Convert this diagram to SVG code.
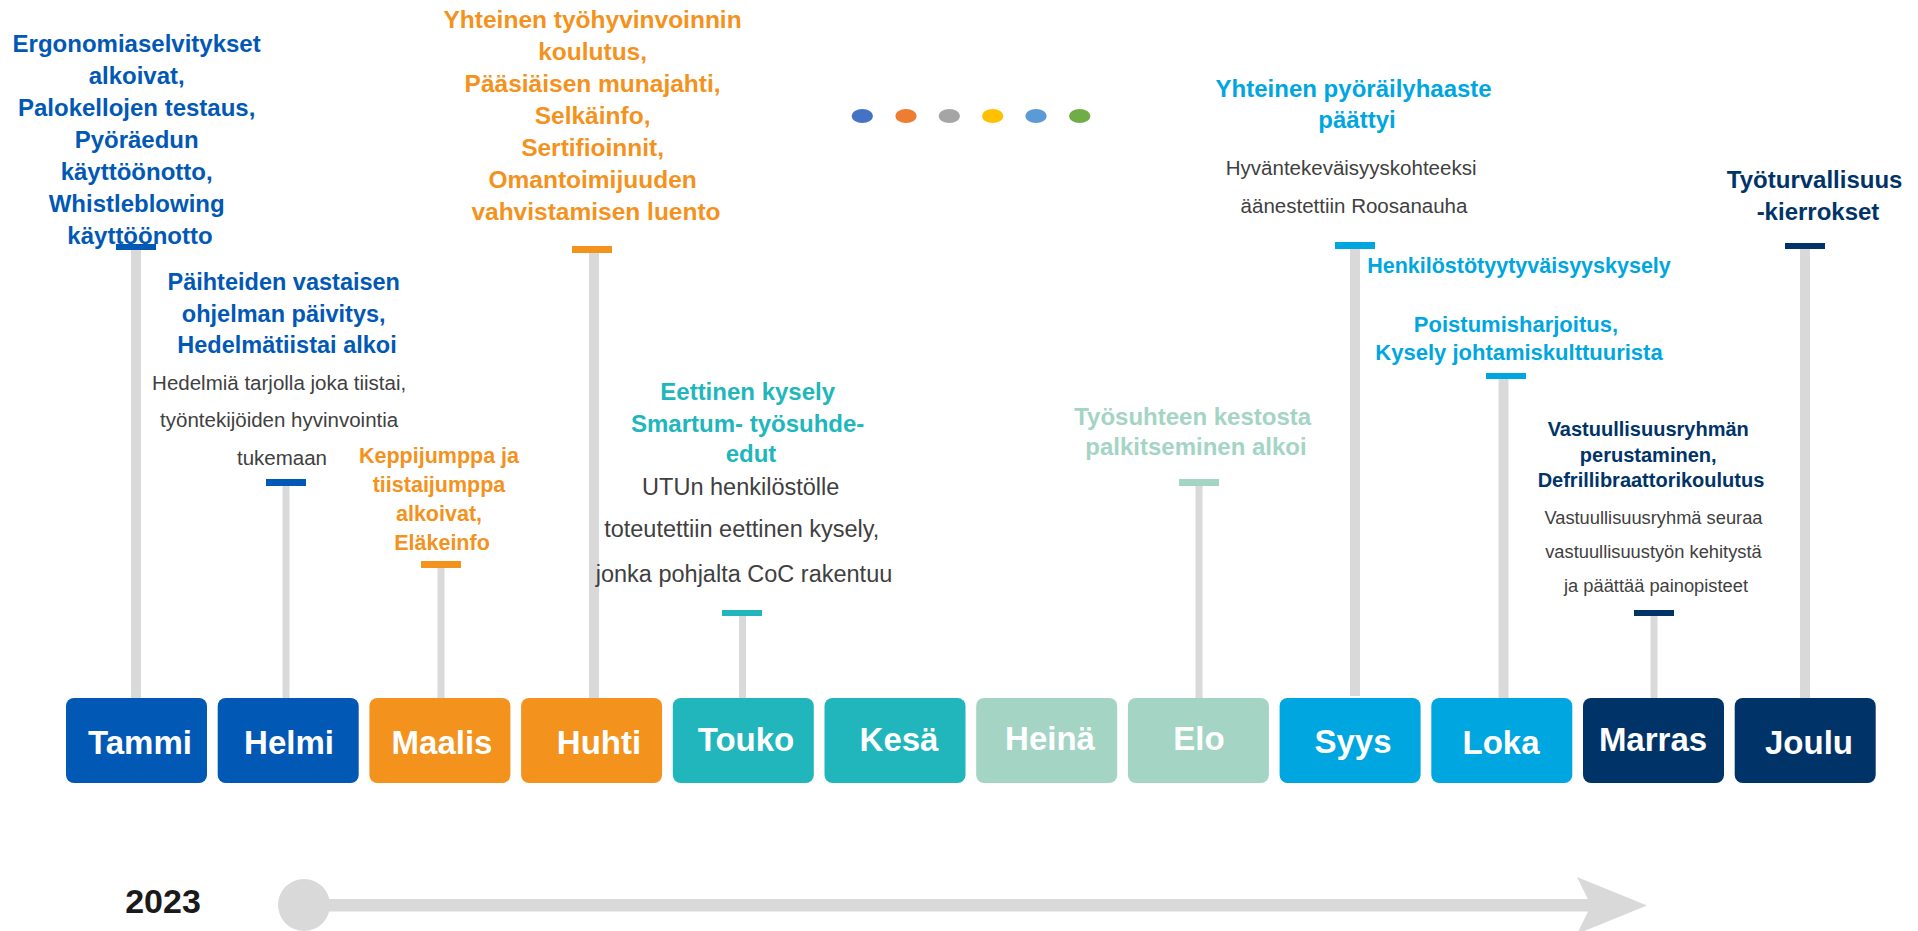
<svg xmlns="http://www.w3.org/2000/svg" width="1918" height="931" viewBox="0 0 1918 931">
<style>
.ml{font-family:"Liberation Sans",Arial,sans-serif;font-weight:bold;font-size:33px;fill:#ffffff;text-anchor:middle}
.t{font-family:"Liberation Sans",Arial,sans-serif;font-weight:bold;text-anchor:middle}
.d{font-family:"Liberation Sans",Arial,sans-serif;fill:#404040;text-anchor:middle}
.stem{fill:#d9d9d9}
.blue{fill:#0258b5}.orange{fill:#f4921e}.teal{fill:#20b6bc}.mint{fill:#a3d4c4}.cyan{fill:#00a6df}.navy{fill:#003468}
</style>
<rect width="1918" height="931" fill="#ffffff"/>

<g id="connectors">
  <rect class="stem" x="131" y="248" width="10" height="451"/>
  <rect class="stem" x="282.5" y="484" width="7" height="215"/>
  <rect class="stem" x="437.5" y="566" width="7" height="132"/>
  <rect class="stem" x="589" y="251" width="10" height="448"/>
  <rect class="stem" x="739" y="615" width="7" height="84"/>
  <rect class="stem" x="1195.5" y="484" width="7" height="215"/>
  <rect class="stem" x="1350" y="247" width="10" height="449"/>
  <rect class="stem" x="1498.5" y="378" width="10" height="321"/>
  <rect class="stem" x="1650.5" y="615" width="7" height="84"/>
  <rect class="stem" x="1800" y="248" width="10" height="451"/>
</g>

<g id="timeline">
  <circle cx="304" cy="905" r="26" fill="#d9d9d9"/>
  <rect x="304" y="899" width="1290" height="12.5" fill="#d9d9d9"/>
  <polygon points="1577,877 1647,905.5 1577,934 1591,905.5" fill="#d9d9d9"/>
  <text x="163" y="913" font-family="'Liberation Sans',Arial,sans-serif" font-weight="bold" font-size="34" fill="#1a1a1a" text-anchor="middle">2023</text>
</g>

<g id="legend-dots">
  <ellipse cx="862.3" cy="116" rx="10.7" ry="7" fill="#4472c4"/>
  <ellipse cx="906" cy="116" rx="10.7" ry="7" fill="#ed7d31"/>
  <ellipse cx="949.3" cy="116" rx="10.7" ry="7" fill="#a5a5a5"/>
  <ellipse cx="992.7" cy="116" rx="10.7" ry="7" fill="#ffc000"/>
  <ellipse cx="1036" cy="116" rx="10.7" ry="7" fill="#5b9bd5"/>
  <ellipse cx="1079.7" cy="116" rx="10.7" ry="7" fill="#70ad47"/>
</g>

<g id="month-tammi"><rect class="blue" x="66" y="698" width="141" height="85" rx="8"/><text class="ml" x="140" y="754">Tammi</text></g>
<g id="month-helmi"><rect class="blue" x="217.7" y="698" width="141" height="85" rx="8"/><text class="ml" x="289" y="754">Helmi</text></g>
<g id="month-maalis"><rect class="orange" x="369.4" y="698" width="141" height="85" rx="8"/><text class="ml" x="442" y="754">Maalis</text></g>
<g id="month-huhti"><rect class="orange" x="521.1" y="698" width="141" height="85" rx="8"/><text class="ml" x="599" y="754">Huhti</text></g>
<g id="month-touko"><rect class="teal" x="672.8" y="698" width="141" height="85" rx="8"/><text class="ml" x="746" y="751">Touko</text></g>
<g id="month-kesa"><rect class="teal" x="824.5" y="698" width="141" height="85" rx="8"/><text class="ml" x="899" y="751">Kesä</text></g>
<g id="month-heina"><rect class="mint" x="976.2" y="698" width="141" height="85" rx="8"/><text class="ml" x="1050" y="750">Heinä</text></g>
<g id="month-elo"><rect class="mint" x="1127.9" y="698" width="141" height="85" rx="8"/><text class="ml" x="1199" y="750">Elo</text></g>
<g id="month-syys"><rect class="cyan" x="1279.6" y="698" width="141" height="85" rx="8"/><text class="ml" x="1353" y="753">Syys</text></g>
<g id="month-loka"><rect class="cyan" x="1431.3" y="698" width="141" height="85" rx="8"/><text class="ml" x="1501" y="754">Loka</text></g>
<g id="month-marras"><rect class="navy" x="1583" y="698" width="141" height="85" rx="8"/><text class="ml" x="1653" y="751">Marras</text></g>
<g id="month-joulu"><rect class="navy" x="1734.7" y="698" width="141" height="85" rx="8"/><text class="ml" x="1809" y="754">Joulu</text></g>

<g id="event-tammi">
  <text class="t blue" font-size="24" x="140">
    <tspan x="140" y="51.5">Ergonomiaselvitykset</tspan>
    <tspan x="140" y="83.5">alkoivat,</tspan>
    <tspan x="140" y="115.5">Palokellojen testaus,</tspan>
    <tspan x="140" y="147.5">Pyöräedun</tspan>
    <tspan x="140" y="179.5">käyttöönotto,</tspan>
    <tspan x="140" y="211.5">Whistleblowing</tspan>
    <tspan x="140" y="243.5">käyttöönotto</tspan>
  </text>
  <rect class="blue" x="116" y="244" width="40" height="6"/>
</g>

<g id="event-helmi">
  <text class="t blue" font-size="23.5">
    <tspan x="287" y="290">Päihteiden vastaisen</tspan>
    <tspan x="287" y="321.5">ohjelman päivitys,</tspan>
    <tspan x="287" y="353">Hedelmätiistai alkoi</tspan>
  </text>
  <text class="d" font-size="20.5">
    <tspan x="282" y="390">Hedelmiä tarjolla joka tiistai,</tspan>
    <tspan x="282" y="427">työntekijöiden hyvinvointia</tspan>
    <tspan x="282" y="465">tukemaan</tspan>
  </text>
  <rect class="blue" x="266" y="479" width="40" height="7"/>
</g>

<g id="event-maalis">
  <text class="t orange" font-size="21.5">
    <tspan x="442" y="463">Keppijumppa ja</tspan>
    <tspan x="442" y="492">tiistaijumppa</tspan>
    <tspan x="442" y="521">alkoivat,</tspan>
    <tspan x="442" y="550">Eläkeinfo</tspan>
  </text>
  <rect class="orange" x="421" y="561" width="40" height="7"/>
</g>

<g id="event-huhti">
  <text class="t orange" font-size="24.5">
    <tspan x="596" y="28.3">Yhteinen työhyvinvoinnin</tspan>
    <tspan x="596" y="60.2">koulutus,</tspan>
    <tspan x="596" y="92.2">Pääsiäisen munajahti,</tspan>
    <tspan x="596" y="124.1">Selkäinfo,</tspan>
    <tspan x="596" y="156.1">Sertifioinnit,</tspan>
    <tspan x="596" y="188">Omantoimijuuden</tspan>
    <tspan x="596" y="220">vahvistamisen luento</tspan>
  </text>
  <rect class="orange" x="572" y="246" width="40" height="7"/>
</g>

<g id="event-touko">
  <text class="t teal" font-size="24">
    <tspan x="751" y="399.5">Eettinen kysely</tspan>
    <tspan x="751" y="431.5">Smartum- työsuhde-</tspan>
    <tspan x="751" y="461.7">edut</tspan>
  </text>
  <text class="d" font-size="23.5">
    <tspan x="744" y="495">UTUn henkilöstölle</tspan>
    <tspan x="745" y="537">toteutettiin eettinen kysely,</tspan>
    <tspan x="744" y="581.7">jonka pohjalta CoC rakentuu</tspan>
  </text>
  <rect class="teal" x="722" y="610" width="40" height="6"/>
</g>

<g id="event-elo">
  <text class="t mint" font-size="24">
    <tspan x="1196" y="425">Työsuhteen kestosta</tspan>
    <tspan x="1196" y="455">palkitseminen alkoi</tspan>
  </text>
  <rect class="mint" x="1179" y="479" width="40" height="7"/>
</g>

<g id="event-syys">
  <text class="t cyan" font-size="24">
    <tspan x="1357" y="97.3">Yhteinen pyöräilyhaaste</tspan>
    <tspan x="1357" y="128.3">päättyi</tspan>
  </text>
  <text class="d" font-size="20.5">
    <tspan x="1354" y="175">Hyväntekeväisyyskohteeksi</tspan>
    <tspan x="1354" y="213.3">äänestettiin Roosanauha</tspan>
  </text>
  <rect class="cyan" x="1335" y="242" width="40" height="7"/>
  <text class="t cyan" font-size="21.5" x="1519" y="273.3">Henkilöstötyytyväisyyskysely</text>
</g>

<g id="event-loka">
  <text class="t cyan" font-size="22">
    <tspan x="1519" y="331.7">Poistumisharjoitus,</tspan>
    <tspan x="1519" y="360">Kysely johtamiskulttuurista</tspan>
  </text>
  <rect class="cyan" x="1486" y="373" width="40" height="6"/>
</g>

<g id="event-marras">
  <text class="t navy" font-size="20">
    <tspan x="1651" y="436">Vastuullisuusryhmän</tspan>
    <tspan x="1651" y="461.5">perustaminen,</tspan>
    <tspan x="1651" y="486.7">Defrillibraattorikoulutus</tspan>
  </text>
  <text class="d" font-size="18.3">
    <tspan x="1656" y="524">Vastuullisuusryhmä seuraa</tspan>
    <tspan x="1656" y="558.3">vastuullisuustyön kehitystä</tspan>
    <tspan x="1656" y="592.3">ja päättää painopisteet</tspan>
  </text>
  <rect class="navy" x="1634" y="610" width="40" height="6"/>
</g>

<g id="event-joulu">
  <text class="t navy" font-size="24">
    <tspan x="1818" y="188.3">Työturvallisuus</tspan>
    <tspan x="1818" y="220">-kierrokset</tspan>
  </text>
  <rect class="navy" x="1785" y="243" width="40" height="6"/>
</g>
</svg>
